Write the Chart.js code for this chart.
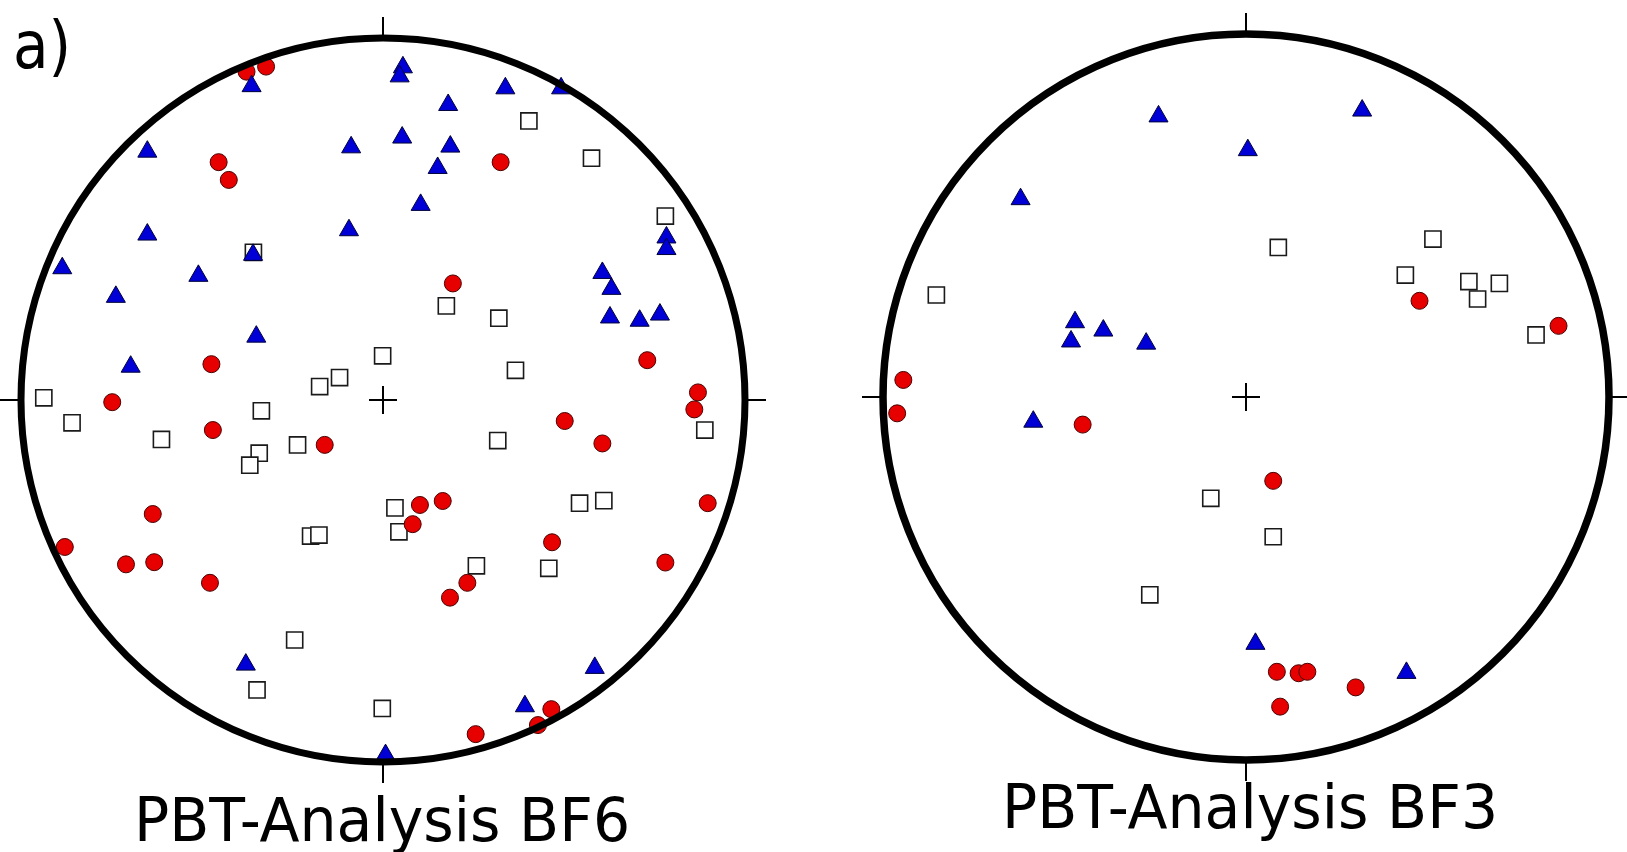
<!DOCTYPE html>
<html><head><meta charset="utf-8">
<script src="https://cdn.jsdelivr.net/npm/chart.js@4/dist/chart.umd.min.js"></script>
<style>
html,body{margin:0;padding:0;background:#fff;width:1627px;height:852px;overflow:hidden;}
body{position:relative;}
.wrap{position:absolute;}
.txt{position:absolute;font-family:"DejaVu Sans",sans-serif;color:#000;white-space:nowrap;line-height:1;}
</style></head><body>
<div class="wrap" id="w1"><canvas id="c1"></canvas></div>
<div class="wrap" id="w2"><canvas id="c2"></canvas></div>
<div class="txt" id="panel"></div>
<div class="txt" id="t1"></div>
<div class="txt" id="t2"></div>
<script>
// Values: positions in percent of the net radius (x = east, y = north)
const panelLabel = 'a)';
const netTitles = ['PBT-Analysis BF6', 'PBT-Analysis BF3'];

const bf6Circles = [
  [-37.7,90.7],[-32.3,92.1],[-45.4,65.7],[-42.6,60.8],[32.5,65.7],[19.3,32.2],
  [-47.4,9.9],[73.0,11.0],[-74.8,-0.6],[87.0,2.1],[86.0,-2.6],[-47.0,-8.3],
  [50.2,-5.8],[-16.1,-12.4],[60.6,-12.0],[-63.6,-31.5],[16.5,-27.9],[10.2,-29.0],
  [8.2,-34.3],[89.7,-28.5],[-87.9,-40.6],[-71.0,-45.4],[-63.2,-44.8],[46.7,-39.3],
  [-47.8,-50.5],[78.0,-44.9],[23.3,-50.5],[18.5,-54.6],[25.6,-92.3],[42.8,-89.8],
  [46.5,-85.4]
];
const bf6Triangles = [
  [-36.3,86.7],[5.5,91.9],[4.6,89.4],[33.8,86.1],[49.2,86.1],[18.0,81.5],
  [-65.1,68.6],[-8.8,69.8],[5.3,72.5],[18.6,70.0],[15.1,64.1],[10.4,53.9],
  [-65.1,45.7],[-9.4,46.9],[-35.9,40.1],[-88.6,36.4],[-51.0,34.3],[-73.8,28.5],
  [60.6,35.1],[63.1,30.7],[78.3,44.9],[78.3,41.7],[-35.0,17.5],[-69.7,9.2],
  [62.7,22.8],[70.9,21.9],[76.5,23.6],[-37.9,-73.1],[58.5,-74.0],[39.2,-84.6],
  [0.7,-98.1]
];
const bf6Squares = [
  [40.3,77.1],[57.6,66.8],[78.0,50.8],[-35.8,40.8],[17.5,26.0],[32.0,22.6],
  [-0.1,12.2],[-12.0,6.2],[-17.5,3.7],[36.6,8.2],[-93.7,0.6],[-85.9,-6.3],
  [-33.6,-3.0],[-61.2,-10.9],[-23.6,-12.4],[-34.2,-14.7],[-36.8,-18.0],[31.7,-11.2],
  [88.9,-8.3],[3.3,-29.8],[4.4,-36.4],[-20.0,-37.6],[-17.7,-37.3],[54.3,-28.5],
  [61.0,-27.8],[25.8,-45.8],[45.8,-46.5],[-24.4,-66.3],[-34.8,-80.1],[-0.2,-85.2]
];

const bf3Circles = [
  [47.8,26.5],[86.1,19.6],[-94.4,4.7],[-96.1,-4.5],[-45.0,-7.6],[7.5,-23.1],
  [8.5,-75.7],[14.5,-76.1],[16.9,-75.7],[30.2,-80.0],[9.4,-85.3]
];
const bf3Triangles = [
  [-24.1,77.3],[32.0,78.9],[0.5,68.0],[-62.1,54.5],[-47.1,20.6],[-39.3,18.3],
  [-48.2,15.3],[-27.5,14.7],[-58.6,-6.8],[2.6,-68.0],[44.2,-76.0]
];
const bf3Squares = [
  [8.9,41.2],[51.5,43.5],[-85.3,28.1],[43.9,33.6],[61.4,31.8],[69.8,31.3],
  [63.8,27.0],[79.9,17.1],[-9.7,-27.9],[7.5,-38.5],[-26.5,-54.5]
];

// ---- layout / styling ----
const nets = [
  {wrap:'w1', canvas:'c1', cx:383, cy:400, R:362, S:810, ring:7, tick:21,
   circles:bf6Circles, triangles:bf6Triangles, squares:bf6Squares},
  {wrap:'w2', canvas:'c2', cx:1246, cy:397, R:363, S:812, ring:7.5, tick:21,
   circles:bf3Circles, triangles:bf3Triangles, squares:bf3Squares}
];

const netFrame = {
  id: 'netFrame',
  afterDatasetsDraw(chart, args, opts) {
    const {ctx} = chart;
    const x = chart.scales.x, y = chart.scales.y;
    const cx = x.getPixelForValue(0), cy = y.getPixelForValue(0);
    const r = x.getPixelForValue(100) - cx;
    ctx.save();
    ctx.strokeStyle = '#000';
    ctx.lineWidth = opts.ring;
    ctx.beginPath(); ctx.arc(cx, cy, r, 0, Math.PI * 2); ctx.stroke();
    ctx.lineWidth = 2;
    const t = opts.tick;
    ctx.beginPath();
    ctx.moveTo(cx, cy - r); ctx.lineTo(cx, cy - r - t);
    ctx.moveTo(cx, cy + r); ctx.lineTo(cx, cy + r + t);
    ctx.moveTo(cx - r, cy); ctx.lineTo(cx - r - t, cy);
    ctx.moveTo(cx + r, cy); ctx.lineTo(cx + r + t, cy);
    const c = 14;
    ctx.moveTo(cx - c, cy); ctx.lineTo(cx + c, cy);
    ctx.moveTo(cx, cy - c); ctx.lineTo(cx, cy + c);
    ctx.stroke();
    ctx.restore();
  }
};

const toXY = arr => arr.map(p => ({x: p[0], y: p[1]}));

nets.forEach(n => {
  const w = document.getElementById(n.wrap);
  w.style.left = (n.cx - n.S / 2) + 'px';
  w.style.top = (n.cy - n.S / 2) + 'px';
  w.style.width = n.S + 'px';
  w.style.height = n.S + 'px';
  const k = (n.S / 2) / n.R * 100;
  new Chart(document.getElementById(n.canvas), {
    type: 'scatter',
    data: {
      datasets: [
        {label:'triangles', data: toXY(n.triangles), order:0, pointStyle:'triangle',
         pointRadius:11, pointHoverRadius:11, backgroundColor:'#0000d6', borderColor:'#00003a', borderWidth:1},
        {label:'circles', data: toXY(n.circles), order:1, pointStyle:'circle',
         pointRadius:8.5, pointHoverRadius:8.5, backgroundColor:'#e60000', borderColor:'#4a0000', borderWidth:1},
        {label:'squares', data: toXY(n.squares), order:2, pointStyle:'rect',
         pointRadius:11.4, pointHoverRadius:11.4, backgroundColor:'#ffffff', borderColor:'#1a1a1a', borderWidth:1.6}
      ]
    },
    options: {
      responsive: true, maintainAspectRatio: false, animation: false, events: [],
      layout: {padding: 0, autoPadding: false},
      scales: {
        x: {type:'linear', min:-k, max:k, display:false},
        y: {type:'linear', min:-k, max:k, display:false}
      },
      plugins: {
        legend: {display:false}, tooltip: {enabled:false}, title: {display:false},
        netFrame: {ring: n.ring, tick: n.tick}
      }
    },
    plugins: [netFrame]
  });
});

// texts
const p = document.getElementById('panel');
p.textContent = panelLabel;
Object.assign(p.style, {fontSize:'66px', left:'13px', top:'13px', transform:'scaleX(0.88)', transformOrigin:'0 0'});
const titlePos = [{cx:381.5, base:841}, {cx:1250, base:828}];
['t1','t2'].forEach((id, i) => {
  const el = document.getElementById(id);
  el.textContent = netTitles[i];
  const fs = 60;
  Object.assign(el.style, {fontSize: fs + 'px', left: titlePos[i].cx + 'px',
    top: (titlePos[i].base - 0.846 * fs) + 'px',
    transform: 'translateX(-50%) scaleX(0.975)', transformOrigin: '50% 0'});
});
</script>
</body></html>
